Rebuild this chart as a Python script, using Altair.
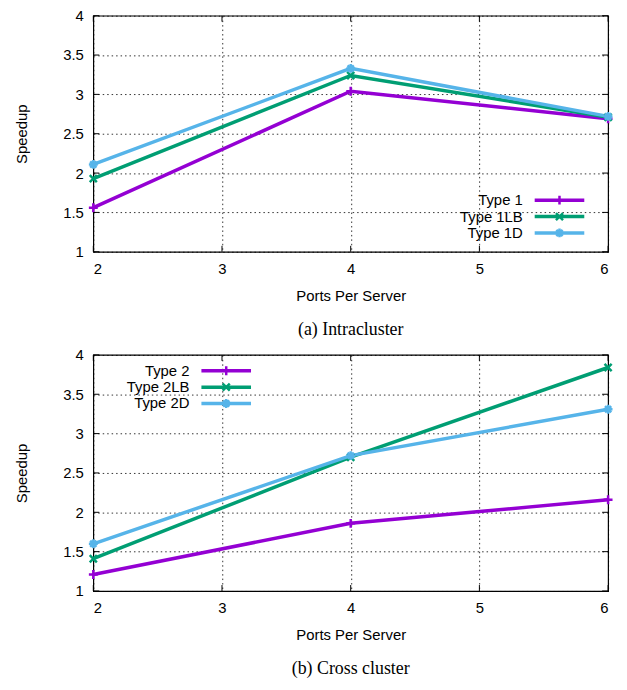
import altair as alt
import pandas as pd

ports = [2, 4, 6]

names_a = ["Type 1", "Type 1LB", "Type 1D"]
type1 = [1.56, 3.04, 2.69]
type1lb = [1.93, 3.24, 2.71]
type1d = [2.11, 3.33, 2.72]

names_b = ["Type 2", "Type 2LB", "Type 2D"]
type2 = [1.21, 1.86, 2.16]
type2lb = [1.41, 2.70, 3.84]
type2d = [1.60, 2.72, 3.31]

x_ticks = [2, 3, 4, 5, 6]
y_ticks = [1, 1.5, 2, 2.5, 3, 3.5, 4]

colors = ["#9400d3", "#009e73", "#56b4e9"]
PLUS = "M-1,0H1M0,-1V1"
CROSS = "M-0.8,-0.8L0.8,0.8M-0.8,0.8L0.8,-0.8"
STAR = "M-1,0H1M0,-1V1M-0.7,-0.7L0.7,0.7M-0.7,0.7L0.7,-0.7"
shapes = [PLUS, CROSS, STAR]

W, H = 519, 238
FONT = "Liberation Sans"

x_axis = alt.Axis(values=x_ticks, format="d", grid=True, gridDash=[1.5, 3], gridColor="#000",
                  gridOpacity=1, gridWidth=0.8, tickSize=0, domain=False, labelOverlap=False,
                  labelPadding=10, labelFont=FONT, labelFontSize=15, labelColor="#000",
                  titleFont=FONT, titleFontSize=15, titleFontWeight="normal",
                  titleColor="#000", titlePadding=12)
y_axis = alt.Axis(values=y_ticks, format="~g", grid=True, gridDash=[1.5, 3], gridColor="#000",
                  gridOpacity=1, gridWidth=0.8, tickSize=0, domain=False, labelOverlap=False,
                  labelPadding=10, labelFont=FONT, labelFontSize=15, labelColor="#000",
                  titleFont=FONT, titleFontSize=15, titleFontWeight="normal",
                  titleColor="#000", titlePadding=33)


def panel(names, series, caption, legend_x, legend_y0):
    rows = []
    for name, vals in zip(names, series):
        for p, v in zip(ports, vals):
            rows.append({"ports": p, "speedup": v, "series": name})
    df = pd.DataFrame(rows)

    xs = alt.Scale(domain=[2, 6], nice=False)
    ys = alt.Scale(domain=[1, 4], nice=False)
    color = alt.Color("series:N", scale=alt.Scale(domain=names, range=colors), legend=None)
    shape = alt.Shape("series:N", scale=alt.Scale(domain=names, range=shapes), legend=None)

    base = alt.Chart(df).encode(
        x=alt.X("ports:Q", scale=xs, title="Ports Per Server", axis=x_axis),
        y=alt.Y("speedup:Q", scale=ys, title="Speedup", axis=y_axis),
        color=color,
    )
    lines = base.mark_line(strokeWidth=3.5)
    points = base.mark_point(filled=False, strokeWidth=2.5, size=80, opacity=1).encode(shape=shape)

    # inward ticks on all four sides
    xt = pd.DataFrame({"t": x_ticks})
    yt = pd.DataFrame({"t": y_ticks})
    X = alt.X("t:Q", scale=xs, title="Ports Per Server", axis=x_axis)
    Y = alt.Y("t:Q", scale=ys, title="Speedup", axis=y_axis)
    tick_layers = [
        alt.Chart(xt).mark_rule(color="#000", strokeWidth=1).encode(
            x=X, y=alt.value(H), y2=alt.value(H - 6)),
        alt.Chart(xt).mark_rule(color="#000", strokeWidth=1).encode(
            x=X, y=alt.value(0), y2=alt.value(6)),
        alt.Chart(yt).mark_rule(color="#000", strokeWidth=1).encode(
            y=Y, x=alt.value(0), x2=alt.value(6)),
        alt.Chart(yt).mark_rule(color="#000", strokeWidth=1).encode(
            y=Y, x=alt.value(W), x2=alt.value(W - 6)),
    ]

    # gnuplot-style legend: label on the left, sample on the right
    leg = []
    for i, (name, col, shp) in enumerate(zip(names, colors, shapes)):
        yy = legend_y0 + i * 16.5
        one = pd.DataFrame({"series": [name]})
        leg.append(alt.Chart(one).mark_text(align="right", baseline="middle", font=FONT,
                                            fontSize=15, color="#000").encode(
            text="series:N", x=alt.value(legend_x), y=alt.value(yy)))
        leg.append(alt.Chart(one).mark_rule(strokeWidth=3.5, color=col).encode(
            x=alt.value(legend_x + 12), x2=alt.value(legend_x + 62), y=alt.value(yy)))
        leg.append(alt.Chart(one).mark_point(shape=shp, filled=False, strokeWidth=2.5,
                                             size=80, color=col, opacity=1).encode(
            x=alt.value(legend_x + 37), y=alt.value(yy)))

    return alt.layer(lines, points, *tick_layers, *leg).properties(
        width=W, height=H,
        title=alt.TitleParams(caption, orient="bottom", font="Liberation Serif", fontSize=18,
                              fontWeight="normal", color="#000", offset=18),
    )


top = panel(names_a, [type1, type1lb, type1d], "(a) Intracluster", 433, 186)
bottom = panel(names_b, [type2, type2lb, type2d], "(b) Cross cluster", 97, 16)

chart = alt.vconcat(top, bottom, spacing=7).configure_view(
    stroke="#000", strokeWidth=1.2
).properties(padding={"left": 6, "top": -3, "right": 0, "bottom": 0})

chart.save("out.html", embed_options={"renderer": "svg", "actions": False})
